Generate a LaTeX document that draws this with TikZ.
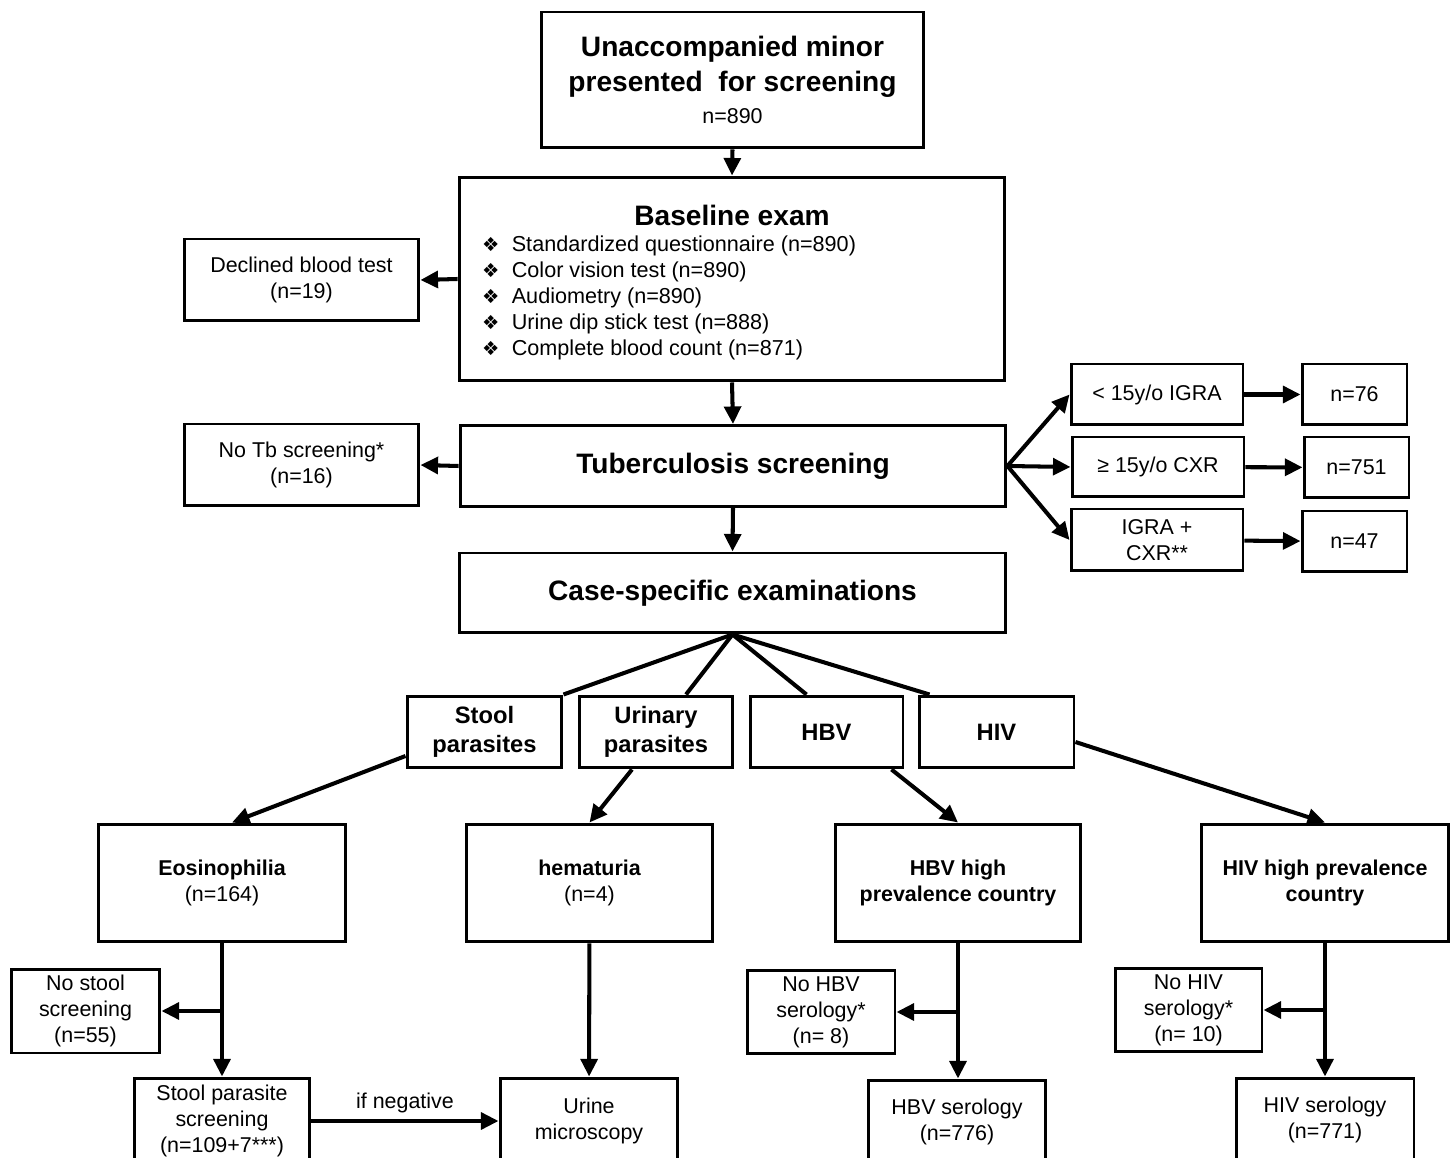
\documentclass[tikz,border=0pt]{standalone}
\usepackage{fontspec}
\setmainfont{Liberation Sans}
\newfontfamily\dejavu{DejaVu Sans}
\usetikzlibrary{arrows.meta}

\begin{document}
\begin{tikzpicture}[x=0.02cm,y=-0.02cm,
    box/.style={draw,line width=1.7pt,align=center,inner sep=1pt,font=\fontsize{12.2}{14.8}\selectfont},
    head/.style={font=\bfseries\fontsize{16}{20}\selectfont},
    mid/.style={font=\bfseries\fontsize{13.5}{16.5}\selectfont},
    arr/.style={line width=2.3pt,-{Triangle[length=10pt,width=9.5pt]}}]
  \useasboundingbox (0,0) rectangle (1451,1158);
  \draw
    (732.5,80) node[box,head,minimum width=7.66cm,minimum height=2.72cm] (top){Unaccompanied minor\\presented\ \ for screening\\[-2pt]\mdseries\fontsize{12.2}{14}\selectfont n=890}
    (732,279) node[box,minimum width=10.92cm,minimum height=4.08cm] (base){}
    (732,215) node[head] (basetitle){Baseline exam}
    (476,298) node[anchor=west,font=\fontsize{12.3}{14.8}\selectfont] (baselist){\begin{tabular}{@{}l@{\hspace{7pt}}l@{}}
        {\dejavu\fontsize{11}{11}\selectfont ❖} & Standardized questionnaire (n=890)\\
        {\dejavu\fontsize{11}{11}\selectfont ❖} & Color vision test (n=890)\\
        {\dejavu\fontsize{11}{11}\selectfont ❖} & Audiometry (n=890)\\
        {\dejavu\fontsize{11}{11}\selectfont ❖} & Urine dip stick test (n=888)\\
        {\dejavu\fontsize{11}{11}\selectfont ❖} & Complete blood count (n=871)
      \end{tabular}}
    (301.5,280) node[box,minimum width=4.7cm,minimum height=1.64cm] (decl){Declined blood test\\(n=19)}
    (733,466) node[box,head,minimum width=10.92cm,minimum height=1.62cm] (tb){Tuberculosis screening}
    (301.5,465) node[box,minimum width=4.7cm,minimum height=1.64cm] (notb){No Tb screening*\\(n=16)}
    (732.5,593) node[box,head,minimum width=10.94cm,minimum height=1.6cm] (cse){Case-specific examinations}
    (1157,394.5) node[box,minimum width=3.44cm,minimum height=1.22cm] (igra){< 15y/o IGRA}
    (1158,467) node[box,minimum width=3.44cm,minimum height=1.2cm] (cxr){≥ 15y/o CXR}
    (1157,540) node[box,minimum width=3.44cm,minimum height=1.24cm] (both){IGRA +\\CXR**}
    (1354.5,394.5) node[box,minimum width=2.1cm,minimum height=1.22cm] (n76){n=76}
    (1356.5,467.5) node[box,minimum width=2.1cm,minimum height=1.22cm] (n751){n=751}
    (1354.5,541.5) node[box,minimum width=2.1cm,minimum height=1.22cm] (n47){n=47}
    (484.5,732) node[box,mid,minimum width=3.1cm,minimum height=1.44cm] (stool){Stool\\parasites}
    (656,732) node[box,mid,minimum width=3.08cm,minimum height=1.44cm] (urin){Urinary\\parasites}
    (826.5,732) node[box,mid,minimum width=3.06cm,minimum height=1.44cm] (hbv){HBV}
    (996.5,732) node[box,mid,minimum width=3.1cm,minimum height=1.44cm] (hiv){HIV}
    (222,883) node[box,minimum width=4.96cm,minimum height=2.36cm] (eos){\bfseries Eosinophilia\\(n=164)}
    (589.5,883) node[box,minimum width=4.94cm,minimum height=2.36cm] (hem){\bfseries hematuria\\(n=4)}
    (958,883) node[box,minimum width=4.92cm,minimum height=2.36cm] (hbvh){\bfseries HBV high\\\bfseries prevalence country}
    (1325,883) node[box,minimum width=4.94cm,minimum height=2.36cm] (hivh){\bfseries HIV high prevalence\\\bfseries country}
    (85.5,1011) node[box,minimum width=2.98cm,minimum height=1.68cm] (nostool){No stool\\screening\\(n=55)}
    (821,1012) node[box,minimum width=2.96cm,minimum height=1.66cm] (nohbv){No HBV\\serology*\\(n= 8)}
    (1188.5,1010) node[box,minimum width=2.94cm,minimum height=1.66cm] (nohiv){No HIV\\serology*\\(n= 10)}
    (222,1121) node[box,minimum width=3.52cm,minimum height=1.72cm] (sps){Stool parasite\\screening\\(n=109+7***)}
    (589,1121) node[box,minimum width=3.56cm,minimum height=1.72cm] (um){Urine\\microscopy}
    (957,1122) node[box,minimum width=3.56cm,minimum height=1.68cm] (hbvs){HBV serology\\(n=776)}
    (1325,1120) node[box,minimum width=3.56cm,minimum height=1.68cm] (hivs){HIV serology\\(n=771)};
  \begin{scope}[arr]
    \draw (top.south) to (base.north);
    \draw (base.west) to (decl.east);
    \draw (base.south) to (tb.north);
    \draw (tb.west) to (notb.east);
    \draw (tb.south) to (cse.north);
    \draw (tb.east) to (igra.west);
    \draw (tb.east) to (cxr.west);
    \draw (tb.east) to (both.west);
    \draw (igra) to (n76);
    \draw (cxr) to (n751);
    \draw (both) to (n47);
    \draw ([yshift=-0.48cm]stool.west) to ([xshift=0.2cm]eos.north);
    \draw ([xshift=-0.48cm]urin.south) to (hem.north);
    \draw ([xshift=1.3cm]hbv.south) to (hbvh.north);
    \draw ([yshift=-0.2cm]hiv.east) to (hivh.north);
    \draw (eos) to (sps);
    \draw (eos.south |- nostool.east) to (nostool.east);
    \draw (hem) to (um);
    \draw (hbvh.south) to (hbvh.south |- hbvs.north);
    \draw (hbvh.south |- nohbv.east) to (nohbv.east);
    \draw (hivh) to (hivs);
    \draw (hivh.south |- nohiv.east) to (nohiv.east);
    \draw (sps) to node[above,font=\fontsize{12.2}{14}\selectfont] (ifneg){if negative} (um);
  \end{scope}
  \begin{scope}[line width=2.3pt]
    \draw (cse.south) to (stool.north east);
    \draw (cse.south) to ([xshift=0.6cm]urin.north);
    \draw (cse.south) to ([xshift=-0.4cm]hbv.north);
    \draw (cse.south) to ([xshift=0.24cm]hiv.north west);
  \end{scope}
\end{tikzpicture}
\end{document}
